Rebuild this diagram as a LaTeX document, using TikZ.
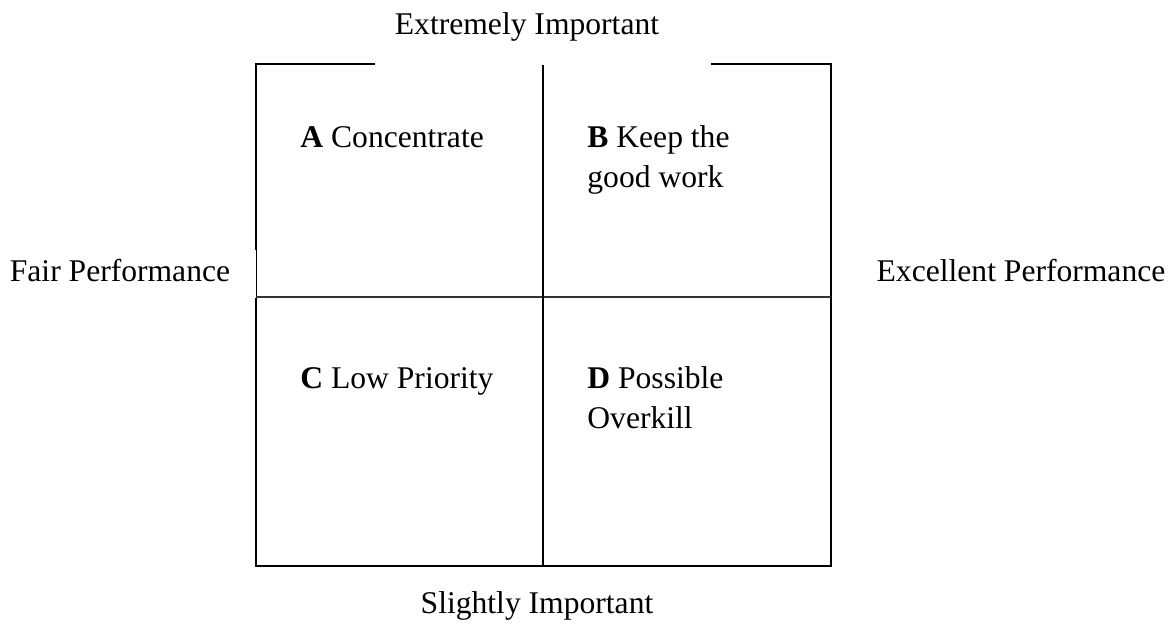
\documentclass[tikz,border=0pt]{standalone}
\usepackage{fontspec}
\setmainfont{Liberation Serif}
\usepackage{tikz}
\usetikzlibrary{positioning}
\tikzstyle{axislabel} = [inner sep=0pt, anchor=base, font=\fontsize{15.8}{18}\selectfont]
\tikzstyle{quadlabel} = [inner sep=0pt, anchor=base west, align=left, font=\fontsize{15.8}{20}\selectfont]
\tikzstyle{frame} = [line width=1.1pt, black]
\tikzstyle{divider} = [line width=0.8pt, black!80]

\begin{document}
\begin{tikzpicture}[x=0.5pt, y=-0.5pt]

    \useasboundingbox (0,0) rectangle (1173,624);

    % Corners
    \coordinate (tl) at (256,64);
    \coordinate (tr) at (831,64);
    \coordinate (bl) at (256,566);
    \coordinate (br) at (831,566);

    % Nodes
    \node (top) [axislabel] at (527,35) {Extremely Important};
    \node (bottom) [axislabel] at (537,614) {Slightly Important};
    \node (left) [axislabel] at (120,282) {Fair Performance};
    \node (right) [axislabel] at (1021,282) {Excellent Performance};

    \node (qa) [quadlabel] at (300,148) {\textbf{A} Concentrate};
    \node (qb) [quadlabel] at (587,188) {\textbf{B} Keep the\\good work};
    \node (qc) [quadlabel] at (300,389) {\textbf{C} Low Priority};
    \node (qd) [quadlabel] at (587,429) {\textbf{D} Possible\\Overkill};

    % Frame
    \draw [frame] (375,64) -- (tl) -- (256,250);
    \draw [line width=0.4pt] (256,250) -- (256,298);
    \draw [frame] (256,298) -- (bl) -- (br) -- (tr) -- (711,64);

    % Dividers
    \draw [divider] (256,297) -- (831,297);
    \draw [frame] (543,65) -- (543,566);

\end{tikzpicture}
\end{document}
